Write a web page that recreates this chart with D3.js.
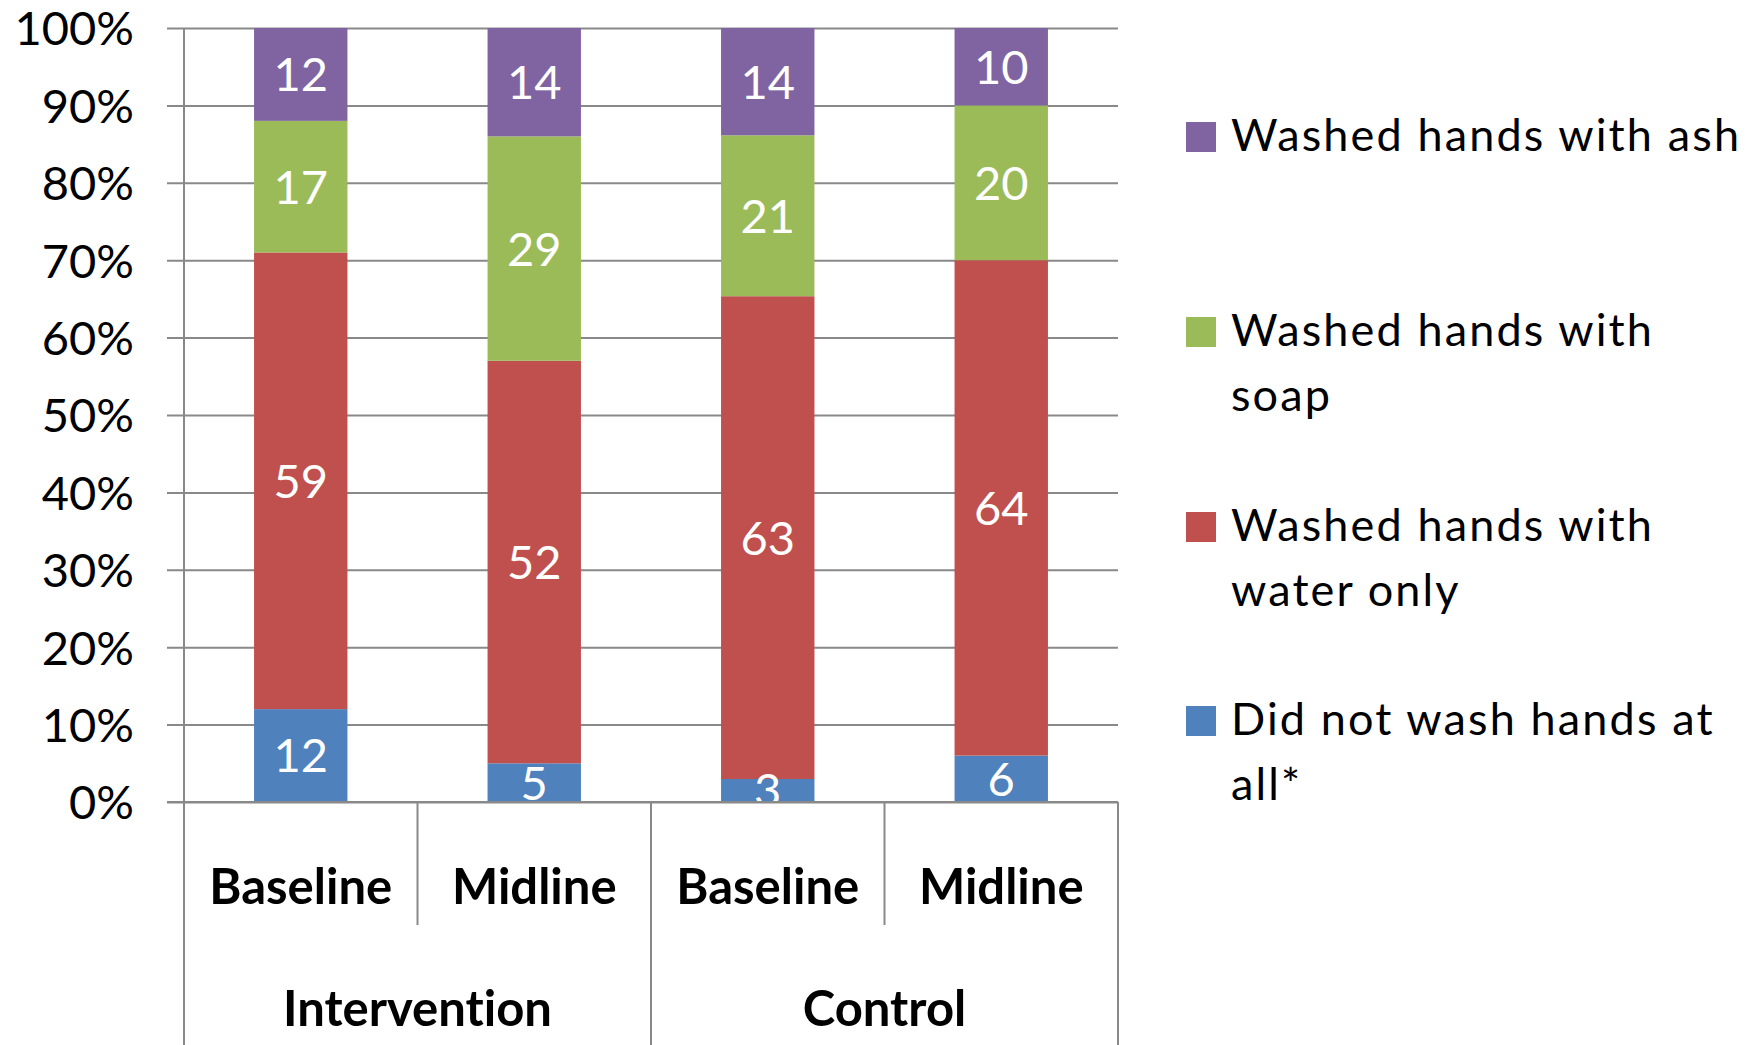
<!DOCTYPE html>
<html>
<head>
<meta charset="utf-8">
<script src="https://cdn.jsdelivr.net/npm/d3@7"></script>
<style>
  body { margin: 0; background: #ffffff; }
  svg { display: block; }
  text { font-family: Lato, "Open Sans", sans-serif; font-variant-ligatures: none; font-feature-settings: "liga" 0; }
</style>
</head>
<body>
<svg id="chart" width="1757" height="1045"></svg>
<script>
// Hand-washing behaviour by study arm and survey round (100% stacked, counts shown)
const groups = ["Intervention", "Control"];
const periods = ["Baseline", "Midline"];
const seriesNames = ["Did not wash hands at all*", "Washed hands with water only", "Washed hands with soap", "Washed hands with ash"];
const noWash = [12, 5, 3, 6];
const waterOnly = [59, 52, 63, 64];
const soap = [17, 29, 21, 20];
const ash = [12, 14, 14, 10];
const yTicks = [0, 0.1, 0.2, 0.3, 0.4, 0.5, 0.6, 0.7, 0.8, 0.9, 1];
const seriesColors = ["#4F81BD", "#C0504D", "#9BBB59", "#8064A2"];
// legend rows (top to bottom) with their wrapped lines
const legendOrder = [3, 2, 1, 0];
const legendLines = [["Washed hands with ash"], ["Washed hands with", "soap"], ["Washed hands with", "water only"], ["Did not wash hands at", "all*"]];

const keys = ["s0", "s1", "s2", "s3"];
const rows = [];
groups.forEach((g, gi) => periods.forEach((p, pi) => {
  const i = gi * periods.length + pi;
  rows.push({ id: g + "|" + p, group: g, period: p, s0: noWash[i], s1: waterOnly[i], s2: soap[i], s3: ash[i] });
}));

const svg = d3.select("#chart");
const plotL = 184, plotR = 1118, plotT = 28, plotB = 802;
const gridColor = "#898989";

const x = d3.scaleBand().domain(rows.map(d => d.id)).range([plotL, plotR]).paddingInner(0.6).paddingOuter(0.3);
const xEdge = d3.scaleLinear().domain([0, rows.length]).range([plotL, plotR]);
const y = d3.scaleLinear().domain([0, 1]).range([plotB, plotT]);

// gridlines + tick labels
const yAxis = d3.axisLeft(y).tickValues(yTicks).tickFormat(d3.format(".0%"))
  .tickSize(-(plotR - 167)).tickPadding(33);
const ga = svg.append("g").attr("transform", "translate(167,0)").call(yAxis);
ga.select(".domain").remove();
ga.selectAll(".tick line").attr("stroke", gridColor).attr("stroke-width", 2);
ga.selectAll(".tick text").attr("font-size", 47).attr("fill", "#000").attr("dy", "0.36em");

// stacked bars (normalised to 100%)
const stacked = d3.stack().keys(keys).offset(d3.stackOffsetExpand)(rows);

svg.append("defs").append("clipPath").attr("id", "plotClip")
  .append("rect").attr("x", plotL).attr("y", plotT).attr("width", plotR - plotL).attr("height", plotB - plotT);

const layers = svg.append("g").selectAll("g").data(stacked).join("g")
  .attr("fill", (d, i) => seriesColors[i]);
layers.selectAll("rect").data(d => d).join("rect")
  .attr("x", d => x(d.data.id))
  .attr("width", x.bandwidth())
  .attr("y", d => y(d[1]))
  .attr("height", d => y(d[0]) - y(d[1]));

// value labels inside each segment
const labels = svg.append("g").attr("clip-path", "url(#plotClip)");
stacked.forEach((layer) => {
  labels.append("g").selectAll("text").data(layer).join("text")
    .attr("x", d => x(d.data.id) + x.bandwidth() / 2)
    .attr("y", d => y((d[0] + d[1]) / 2))
    .attr("dy", "0.36em")
    .attr("text-anchor", "middle")
    .attr("font-size", 47)
    .attr("fill", "#ffffff")
    .text(d => d.data[layer.key]);
});

// axes lines
const axes = svg.append("g").attr("stroke", gridColor).attr("stroke-width", 2);
axes.append("line").attr("x1", 167).attr("x2", plotR).attr("y1", y(0)).attr("y2", y(0));
axes.append("line").attr("x1", plotL).attr("x2", plotL).attr("y1", plotT).attr("y2", 1045);
// dividers between periods and between groups
d3.range(1, rows.length + 1).forEach(i => {
  const isGroupEdge = i % periods.length === 0;
  axes.append("line")
    .attr("x1", xEdge(i)).attr("x2", xEdge(i))
    .attr("y1", plotB).attr("y2", isGroupEdge ? 1045 : 925);
});

// period labels
svg.append("g").selectAll("text").data(rows).join("text")
  .attr("x", d => x(d.id) + x.bandwidth() / 2)
  .attr("y", 904)
  .attr("text-anchor", "middle")
  .attr("font-size", 49)
  .attr("font-weight", 700)
  .attr("fill", "#000")
  .text(d => d.period);

// group labels
svg.append("g").selectAll("text").data(groups).join("text")
  .attr("x", (d, gi) => (xEdge(gi * periods.length) + xEdge((gi + 1) * periods.length)) / 2)
  .attr("y", 1026)
  .attr("text-anchor", "middle")
  .attr("font-size", 49)
  .attr("font-weight", 700)
  .attr("fill", "#000")
  .text(d => d);

// legend
const legend = svg.append("g");
const rowTops = [122, 317, 512, 706];
legendOrder.forEach((si, r) => {
  legend.append("rect").attr("x", 1186).attr("y", rowTops[r]).attr("width", 30).attr("height", 30)
    .attr("fill", seriesColors[si]);
  legendLines[r].forEach((line, li) => {
    legend.append("text").attr("class", "legend-text")
      .attr("x", 1231).attr("y", rowTops[r] + 29 + li * 65)
      .attr("font-size", 45).attr("fill", "#000")
      .text(line);
  });
});
// widen letter spacing so the longest legend line spans its box
const first = legend.select(".legend-text").node();
const natural = first.getComputedTextLength();
const spacing = Math.max(0, (508 - natural) / (first.textContent.length - 1));
legend.selectAll(".legend-text").attr("letter-spacing", spacing);
</script>
</body>
</html>
